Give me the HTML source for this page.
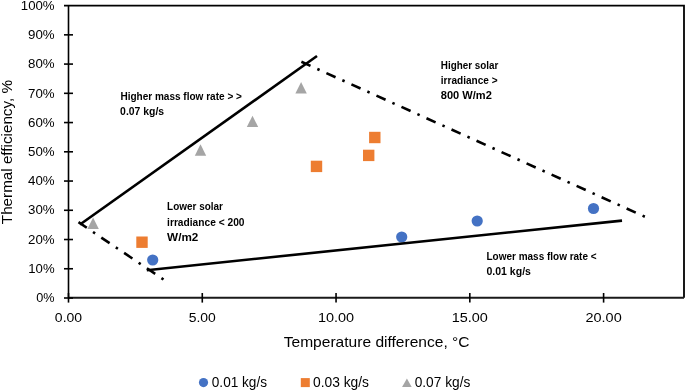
<!DOCTYPE html>
<html><head><meta charset="utf-8"><style>
html,body{margin:0;padding:0;background:#fff;}
body{width:685px;height:390px;overflow:hidden;}
svg{display:block;font-family:"Liberation Sans", sans-serif;will-change:transform;}
text{fill:#000;}
</style></head><body>
<svg width="685" height="390" viewBox="0 0 685 390">
<path d="M64 5.7 H684 V297.8" fill="none" stroke="#000" stroke-width="1.8"/>
<line x1="68.5" y1="5.7" x2="68.5" y2="297.8" stroke="#000" stroke-width="1.6"/>
<line x1="68.5" y1="297.8" x2="684" y2="297.8" stroke="#1a1a1a" stroke-width="2"/>
<line x1="64" y1="298.00" x2="73" y2="298.00" stroke="#000" stroke-width="1.6"/>
<line x1="64" y1="268.76" x2="73" y2="268.76" stroke="#000" stroke-width="1.6"/>
<line x1="64" y1="239.52" x2="73" y2="239.52" stroke="#000" stroke-width="1.6"/>
<line x1="64" y1="210.28" x2="73" y2="210.28" stroke="#000" stroke-width="1.6"/>
<line x1="64" y1="181.04" x2="73" y2="181.04" stroke="#000" stroke-width="1.6"/>
<line x1="64" y1="151.80" x2="73" y2="151.80" stroke="#000" stroke-width="1.6"/>
<line x1="64" y1="122.56" x2="73" y2="122.56" stroke="#000" stroke-width="1.6"/>
<line x1="64" y1="93.32" x2="73" y2="93.32" stroke="#000" stroke-width="1.6"/>
<line x1="64" y1="64.08" x2="73" y2="64.08" stroke="#000" stroke-width="1.6"/>
<line x1="64" y1="34.84" x2="73" y2="34.84" stroke="#000" stroke-width="1.6"/>
<line x1="68.50" y1="293" x2="68.50" y2="302.6" stroke="#000" stroke-width="1.6"/>
<line x1="202.28" y1="293" x2="202.28" y2="302.6" stroke="#000" stroke-width="1.6"/>
<line x1="336.05" y1="293" x2="336.05" y2="302.6" stroke="#000" stroke-width="1.6"/>
<line x1="469.82" y1="293" x2="469.82" y2="302.6" stroke="#000" stroke-width="1.6"/>
<line x1="603.60" y1="293" x2="603.60" y2="302.6" stroke="#000" stroke-width="1.6"/>
<text x="54.6" y="302.20" text-anchor="end" font-size="13.5" textLength="18.3" lengthAdjust="spacingAndGlyphs">0%</text>
<text x="54.6" y="272.96" text-anchor="end" font-size="13.5" textLength="26.3" lengthAdjust="spacingAndGlyphs">10%</text>
<text x="54.6" y="243.72" text-anchor="end" font-size="13.5" textLength="26.6" lengthAdjust="spacingAndGlyphs">20%</text>
<text x="54.6" y="214.48" text-anchor="end" font-size="13.5" textLength="26.6" lengthAdjust="spacingAndGlyphs">30%</text>
<text x="54.6" y="185.24" text-anchor="end" font-size="13.5" textLength="26.6" lengthAdjust="spacingAndGlyphs">40%</text>
<text x="54.6" y="156.00" text-anchor="end" font-size="13.5" textLength="26.6" lengthAdjust="spacingAndGlyphs">50%</text>
<text x="54.6" y="126.76" text-anchor="end" font-size="13.5" textLength="26.6" lengthAdjust="spacingAndGlyphs">60%</text>
<text x="54.6" y="97.52" text-anchor="end" font-size="13.5" textLength="26.6" lengthAdjust="spacingAndGlyphs">70%</text>
<text x="54.6" y="68.28" text-anchor="end" font-size="13.5" textLength="26.6" lengthAdjust="spacingAndGlyphs">80%</text>
<text x="54.6" y="39.04" text-anchor="end" font-size="13.5" textLength="26.6" lengthAdjust="spacingAndGlyphs">90%</text>
<text x="54.6" y="9.80" text-anchor="end" font-size="13.5" textLength="33.8" lengthAdjust="spacingAndGlyphs">100%</text>
<text x="68.50" y="321.9" text-anchor="middle" font-size="13.6" textLength="27.3" lengthAdjust="spacingAndGlyphs">0.00</text>
<text x="202.28" y="321.9" text-anchor="middle" font-size="13.6" textLength="27.1" lengthAdjust="spacingAndGlyphs">5.00</text>
<text x="336.05" y="321.9" text-anchor="middle" font-size="13.6" textLength="36.2" lengthAdjust="spacingAndGlyphs">10.00</text>
<text x="469.82" y="321.9" text-anchor="middle" font-size="13.6" textLength="36.2" lengthAdjust="spacingAndGlyphs">15.00</text>
<text x="603.60" y="321.9" text-anchor="middle" font-size="13.6" textLength="36.2" lengthAdjust="spacingAndGlyphs">20.00</text>
<text x="283.7" y="346.6" font-size="14.3" textLength="185.9" lengthAdjust="spacingAndGlyphs">Temperature difference, °C</text>
<text transform="translate(12,224.15) rotate(-90)" x="0" y="0" font-size="15" textLength="144.1" lengthAdjust="spacingAndGlyphs">Thermal efficiency, %</text>
<circle cx="152.7" cy="260" r="5.6" fill="#4472C4"/>
<circle cx="401.7" cy="237" r="5.6" fill="#4472C4"/>
<circle cx="477.2" cy="221" r="5.6" fill="#4472C4"/>
<circle cx="593.5" cy="208.5" r="5.6" fill="#4472C4"/>
<rect x="136.30" y="236.50" width="11.4" height="11.4" fill="#ED7D31"/>
<rect x="310.80" y="160.70" width="11.4" height="11.4" fill="#ED7D31"/>
<rect x="363.00" y="149.70" width="11.4" height="11.4" fill="#ED7D31"/>
<rect x="369.10" y="131.80" width="11.4" height="11.4" fill="#ED7D31"/>
<path d="M93.10 217.50 L98.80 228.90 L87.40 228.90 Z" fill="#A5A5A5"/>
<path d="M200.50 144.30 L206.20 155.70 L194.80 155.70 Z" fill="#A5A5A5"/>
<path d="M252.50 115.70 L258.20 127.10 L246.80 127.10 Z" fill="#A5A5A5"/>
<path d="M301.10 82.10 L306.80 93.50 L295.40 93.50 Z" fill="#A5A5A5"/>
<line x1="317.0" y1="56.0" x2="80.0" y2="224.5" stroke="#000" stroke-width="2.6"/>
<line x1="146.8" y1="270.2" x2="622" y2="220.6" stroke="#000" stroke-width="2.6"/>
<line x1="78.5" y1="222.2" x2="163.7" y2="279.6" stroke="#000" stroke-width="2.6" stroke-dasharray="10 7.5 2.5 7.5"/>
<line x1="301.4" y1="61.8" x2="645.5" y2="217" stroke="#000" stroke-width="2.6" stroke-dasharray="10 7.47 2.5 7.475"/>
<text x="120.4" y="99.5" font-size="10.5" font-weight="bold" textLength="121.5" lengthAdjust="spacingAndGlyphs">Higher mass flow rate &gt; &gt;</text>
<text x="120.1" y="114.6" font-size="10.5" font-weight="bold" textLength="44.0" lengthAdjust="spacingAndGlyphs">0.07 kg/s</text>
<text x="440.8" y="68.7" font-size="10.5" font-weight="bold" textLength="57.6" lengthAdjust="spacingAndGlyphs">Higher solar</text>
<text x="440.8" y="83.7" font-size="10.5" font-weight="bold" textLength="56.800000000000004" lengthAdjust="spacingAndGlyphs">irradiance &gt;</text>
<text x="440.8" y="99.2" font-size="10.5" font-weight="bold" textLength="51.0" lengthAdjust="spacingAndGlyphs">800 W/m2</text>
<text x="167.1" y="210" font-size="10.5" font-weight="bold" textLength="55.800000000000004" lengthAdjust="spacingAndGlyphs">Lower solar</text>
<text x="167.1" y="225.7" font-size="10.5" font-weight="bold" textLength="77.39999999999999" lengthAdjust="spacingAndGlyphs">irradiance &lt; 200</text>
<text x="167.1" y="240.7" font-size="10.5" font-weight="bold" textLength="31.200000000000003" lengthAdjust="spacingAndGlyphs">W/m2</text>
<text x="486.5" y="259.8" font-size="10.5" font-weight="bold" textLength="110.1" lengthAdjust="spacingAndGlyphs">Lower mass flow rate &lt;</text>
<text x="486.5" y="275" font-size="10.5" font-weight="bold" textLength="44.4" lengthAdjust="spacingAndGlyphs">0.01 kg/s</text>
<circle cx="203.5" cy="382.6" r="4.6" fill="#4472C4"/>
<text x="211.8" y="386.8" font-size="13.9" textLength="55.2" lengthAdjust="spacingAndGlyphs">0.01 kg/s</text>
<rect x="300.8" y="378.1" width="9" height="9" fill="#ED7D31"/>
<text x="313" y="386.8" font-size="13.9" textLength="56.0" lengthAdjust="spacingAndGlyphs">0.03 kg/s</text>
<path d="M406.9 378.5 L411.7 387 L402.1 387 Z" fill="#A5A5A5"/>
<text x="414.7" y="386.8" font-size="13.9" textLength="55.6" lengthAdjust="spacingAndGlyphs">0.07 kg/s</text>
</svg>
</body></html>
